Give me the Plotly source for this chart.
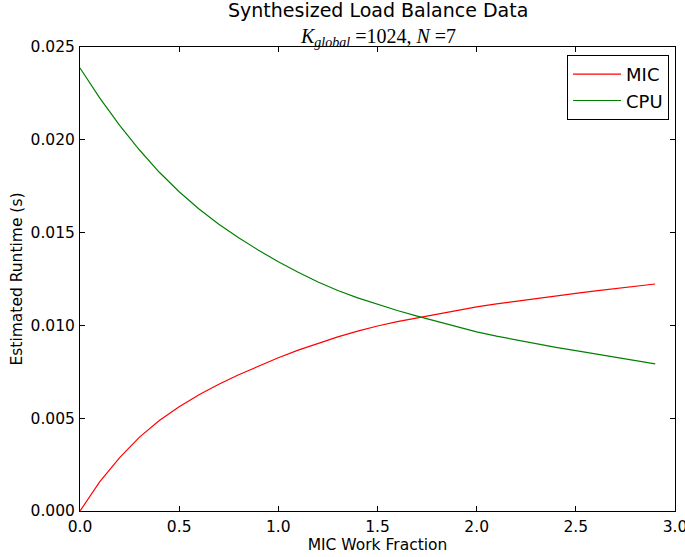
import plotly.graph_objects as go

# ---- data ----
mic_work_fraction = [0.0, 0.1, 0.2, 0.3, 0.4, 0.5, 0.6, 0.7, 0.8, 0.9,
                     1.0, 1.1, 1.2, 1.3, 1.4, 1.5, 1.6, 1.7, 1.8, 1.9,
                     2.0, 2.1, 2.2, 2.3, 2.4, 2.5, 2.6, 2.7, 2.8, 2.9]
mic_runtime = [0.00000, 0.00158, 0.00288, 0.00398, 0.00488, 0.00562, 0.00626, 0.00683, 0.00734, 0.00781,
               0.00826, 0.00867, 0.00904, 0.00938, 0.00969, 0.00997, 0.01020, 0.01041, 0.01062, 0.01082,
               0.01100, 0.01116, 0.01131, 0.01146, 0.01160, 0.01173, 0.01186, 0.01199, 0.01211, 0.01223]
cpu_runtime = [0.02387, 0.02225, 0.02078, 0.01945, 0.01825, 0.01720, 0.01627, 0.01545, 0.01472, 0.01405,
               0.01343, 0.01286, 0.01234, 0.01188, 0.01148, 0.01112, 0.01080, 0.01050, 0.01021, 0.00992,
               0.00965, 0.00942, 0.00921, 0.00901, 0.00882, 0.00864, 0.00846, 0.00828, 0.00810, 0.00793]
series_names = ["MIC", "CPU"]
series_colors = ["#ff0000", "#008000"]
x_ticks = [0.0, 0.5, 1.0, 1.5, 2.0, 2.5, 3.0]
y_ticks = [0.000, 0.005, 0.010, 0.015, 0.020, 0.025]

title_text = "Synthesized Load Balance Data"
subtitle_text = "<i>K</i><sub><i>global</i></sub> =1024, <i>N</i> =7"
x_label = "MIC Work Fraction"
y_label = "Estimated Runtime (s)"

fig = go.Figure()
for name, ys, col in zip(series_names, [mic_runtime, cpu_runtime], series_colors):
    fig.add_trace(go.Scatter(x=mic_work_fraction, y=ys, mode="lines", name=name,
                             line=dict(color=col, width=1.2)))

axis_common = dict(showline=True, linecolor="black", linewidth=1, mirror="ticks",
                   ticks="inside", ticklen=5, tickwidth=1, tickcolor="black",
                   showgrid=False, zeroline=False, ticklabeloverflow="allow",
                   tickfont=dict(family="DejaVu Sans", size=15.5, color="black"))

fig.update_layout(
    width=685, height=557,
    margin=dict(l=80, r=10, t=47, b=46, autoexpand=False),
    paper_bgcolor="white", plot_bgcolor="white",
    showlegend=True,
    legend=dict(x=0.99, y=0.983, xanchor="right", yanchor="top",
                bordercolor="black", borderwidth=1, bgcolor="white",
                itemwidth=48,
                font=dict(family="DejaVu Sans", size=18, color="black")),
    xaxis=dict(range=[0, 3], tickvals=x_ticks, tickformat=".1f",
               title=dict(text=x_label, standoff=1,
                          font=dict(family="DejaVu Sans", size=15.5, color="black")),
               ticklabelstandoff=1, **axis_common),
    yaxis=dict(range=[0, 0.025], tickvals=y_ticks, tickformat=".3f",
               title=dict(text=y_label, standoff=4,
                          font=dict(family="DejaVu Sans", size=15.5, color="black")),
               ticklabelstandoff=1, **axis_common),
    annotations=[
        dict(text=title_text, xref="paper", yref="paper", x=0.5, y=1.0517,
             showarrow=False, yanchor="bottom",
             font=dict(family="DejaVu Sans", size=19, color="black")),
        dict(text=subtitle_text, xref="paper", yref="paper", x=0.5, y=1.0517,
             showarrow=False, yanchor="top",
             font=dict(family="Liberation Serif", size=20, color="black")),
    ],
)

fig.write_html("out.html", config={"displayModeBar": False},
               post_script="document.body.style.margin='0';")
